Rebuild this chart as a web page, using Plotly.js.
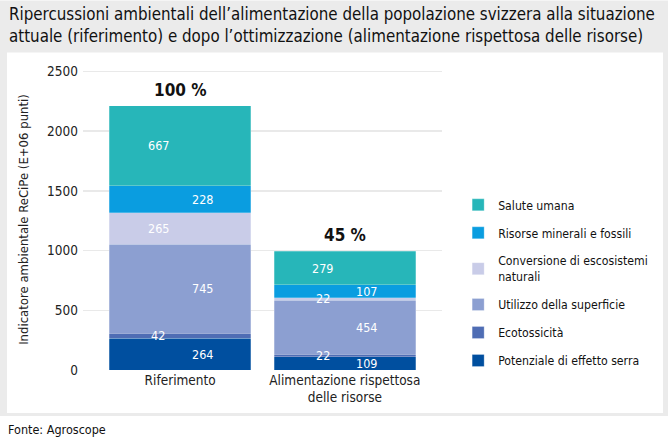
<!DOCTYPE html>
<html>
<head>
<meta charset="utf-8">
<script src="https://cdn.plot.ly/plotly-3.0.1.min.js"></script>
<style>html,body{margin:0;padding:0;background:#fff;}#chart{width:668px;height:439px;}</style>
</head>
<body>
<div id="chart"></div>
<script>
const categories = ["Riferimento", "Alimentazione rispettosa<br>delle risorse"];
const seriesNames = ["Potenziale di effetto serra", "Ecotossicità", "Utilizzo della superficie", "Conversione di escosistemi<br>naturali", "Risorse minerali e fossili", "Salute umana"];
const potenziale = [264, 109];
const ecotossicita = [42, 22];
const utilizzo = [745, 454];
const conversione = [265, 22];
const risorse = [228, 107];
const salute = [667, 279];
const percentLabels = ["100 %", "45 %"];
const yTicks = [0, 500, 1000, 1500, 2000, 2500];

const seriesValues = [potenziale, ecotossicita, utilizzo, conversione, risorse, salute];
const colors = ["#004f9f", "#4f6db4", "#8c9fd1", "#c9cce8", "#0a9de0", "#27b6b9"];
const FONT = "'DejaVu Sans Condensed', 'DejaVu Sans', sans-serif";

const traces = seriesValues.map((vals, i) => ({
  type: "bar",
  name: seriesNames[i],
  legendgroup: "g" + i,
  legendrank: seriesValues.length - i,
  x: categories,
  y: vals,
  marker: {color: colors[i], line: {color: "rgba(255,255,255,0.5)", width: 0.5}},
  width: 0.86,
  hoverinfo: "none"
}));

const annotations = [];
categories.forEach((cat, c) => {
  let cum = 0;
  seriesValues.forEach((vals, i) => {
    const v = vals[c];
    annotations.push({
      x: cat, y: cum + v / 2, xref: "x", yref: "y",
      text: String(v), showarrow: false,
      xshift: (i % 2 === 0) ? 22 : -22,
      font: {family: FONT, size: 12.5, color: "#ffffff"}
    });
    cum += v;
  });
  annotations.push({
    x: cat, y: cum, xref: "x", yref: "y", yanchor: "bottom",
    text: "<b>" + percentLabels[c] + "</b>", showarrow: false, yshift: 4,
    font: {family: FONT, size: 17, color: "#111111"}
  });
});

annotations.push({
  xref: "paper", yref: "paper", x: -76/359, y: (370 - 1)/301.5, xanchor: "left", yanchor: "top", align: "left",
  text: "Ripercussioni ambientali dell’alimentazione della popolazione svizzera alla situazione<br>attuale (riferimento) e dopo l’ottimizzazione (alimentazione rispettosa delle risorse)",
  showarrow: false, font: {family: FONT, size: 16.8, color: "#111111"}
});
annotations.push({
  xref: "paper", yref: "paper", x: -77/359, y: -(430 - 370)/301.5, xanchor: "left", yanchor: "middle",
  text: "Fonte: Agroscope", showarrow: false, font: {family: FONT, size: 12.5, color: "#111111"}
});

const layout = {
  width: 668, height: 439,
  margin: {l: 83, r: 226, t: 68.5, b: 69},
  paper_bgcolor: "#ffffff",
  plot_bgcolor: "rgba(0,0,0,0)",
  barmode: "stack",
  showlegend: true,
  font: {family: FONT, size: 13, color: "#222"},
  xaxis: {
    range: [-0.59, 1.59], showgrid: false, zeroline: false, showline: false,
    ticks: "", tickfont: {family: FONT, size: 13.5, color: "#222"}
  },
  yaxis: {
    range: [0, 2520], tickvals: yTicks, ticktext: yTicks.map(String),
    showgrid: true, gridcolor: "#e9e9e9", gridwidth: 1.5, zeroline: false, showline: false,
    ticks: "", ticklen: 0, ticklabelstandoff: 4, tickfont: {family: FONT, size: 13.5, color: "#222"},
    title: {text: "Indicatore ambientale ReCiPe (E+06 punti)", font: {family: FONT, size: 13, color: "#222"}, standoff: 15}
  },
  legend: {
    x: 1.045, y: 0.597, xanchor: "left", yanchor: "top",
    traceorder: "grouped", bgcolor: "rgba(0,0,0,0)",
    font: {family: FONT, size: 12.2, color: "#111"},
    itemclick: false, tracegroupgap: 9, itemwidth: 30
  },
  shapes: [
    {type: "rect", xref: "paper", yref: "paper", layer: "below",
     x0: -83/359, x1: 585/359, y0: -(416 - 370)/301.5, y1: 370/301.5,
     fillcolor: "#ebebeb", line: {width: 0}},
    {type: "rect", xref: "paper", yref: "paper", layer: "below",
     x0: -76/359, x1: 580/359, y0: -(413 - 370)/301.5, y1: (370 - 52)/301.5,
     fillcolor: "#ffffff", line: {width: 0}}
  ],
  annotations: annotations
};

Plotly.newPlot("chart", traces, layout, {staticPlot: true, displayModeBar: false});
</script>
</body>
</html>
